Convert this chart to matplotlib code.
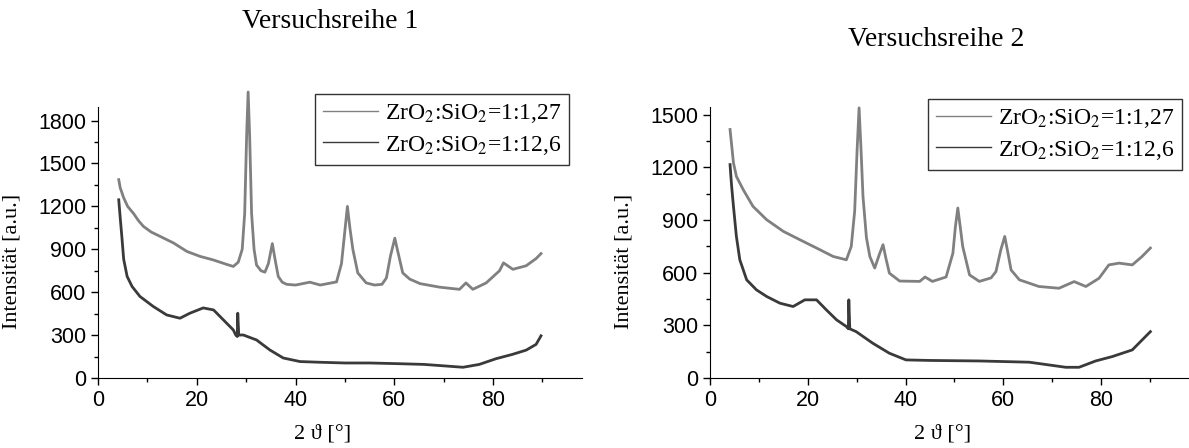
from matplotlib import pyplot as plt
from matplotlib.ticker import MultipleLocator

plt.rcParams['font.family'] = ['Liberation Sans', 'DejaVu Sans']
plt.rcParams['mathtext.fontset'] = 'stix'
SERIF = ['Liberation Serif', 'DejaVu Serif']

# Versuchsreihe 1, ZrO2:SiO2 = 1:1,27
x_r1_a = [4.2, 4.5, 5.2, 6.0, 7.2, 8.2, 9.2, 10.8, 12.6, 15.3, 18.0, 20.7, 23.3, 26.0, 27.4,
          28.4, 29.2, 29.7, 30.1, 30.4, 30.7, 31.1, 31.6, 32.1, 33.0, 33.8, 34.5, 35.3,
          35.9, 36.5, 37.3, 38.2, 40.0, 42.9, 45.0, 48.3, 49.3, 49.9, 50.5, 51.0, 51.6,
          52.6, 54.3, 56.0, 57.5, 58.4, 59.2, 60.1, 60.6, 61.7, 63.1, 65.2, 69.2, 73.2,
          74.5, 75.9, 78.6, 81.3, 82.1, 84.0, 86.7, 88.7, 89.7]
y_r1_a = [1387, 1330, 1260, 1200, 1150, 1100, 1060, 1020, 990, 944, 885, 850, 826, 795, 780,
          810, 900, 1150, 1700, 2000, 1700, 1150, 900, 790, 750, 740, 800, 940,
          820, 710, 670, 655, 650, 670, 650, 672, 800, 1000, 1200, 1050, 900,
          735, 665, 650, 655, 700, 850, 978, 900, 735, 692, 660, 635, 620,
          665, 620, 665, 750, 805, 760, 785, 835, 870]

# Versuchsreihe 1, ZrO2:SiO2 = 1:12,6
x_r1_b = [4.2, 4.5, 4.8, 5.2, 5.9, 6.9, 8.5, 11.2, 13.9, 16.6, 18.6, 21.3, 23.4, 25.4,
          27.4, 27.9, 28.2, 28.3, 28.5, 29.4, 32.1, 34.8, 37.5, 40.9, 45.0, 50.0, 55.0,
          61.0, 66.0, 70.0, 73.9, 77.2, 80.6, 83.9, 86.7, 88.7, 89.7]
y_r1_b = [1246, 1120, 1000, 830, 710, 640, 570, 500, 441, 418, 453, 490, 476, 406,
          336, 300, 290, 453, 300, 301, 266, 196, 140, 115, 110, 105, 105,
          100, 95, 85, 75, 95, 135, 165, 195, 235, 295]

# Versuchsreihe 2, ZrO2:SiO2 = 1:1,27
x_r2_a = [4.1, 4.8, 5.4, 6.8, 8.8, 11.6, 15.0, 18.4, 21.8, 25.2, 27.9, 28.9, 29.6, 30.1,
          30.5, 30.9, 31.3, 32.0, 32.7, 33.7, 34.6, 35.4, 36.0, 36.7, 38.8, 42.9, 44.0,
          45.5, 48.3, 49.7, 50.2, 50.7, 51.2, 51.7, 53.1, 55.1, 57.5, 58.5, 59.5, 60.3,
          60.9, 61.6, 63.3, 67.3, 71.4, 74.5, 76.9, 79.6, 81.6, 83.7, 86.4, 88.4, 90.1]
y_r2_a = [1415, 1225, 1148, 1072, 977, 901, 835, 787, 740, 692, 673, 749, 950, 1300,
          1538, 1300, 1034, 800, 692, 626, 700, 759, 680, 597, 552, 550, 575,
          550, 575, 711, 860, 968, 860, 749, 587, 550, 570, 606, 730, 806,
          720, 615, 559, 521, 511, 549, 521, 568, 644, 654, 644, 692, 740]

# Versuchsreihe 2, ZrO2:SiO2 = 1:12,6
x_r2_b = [4.1, 4.4, 4.8, 5.4, 6.1, 7.5, 9.5, 11.6, 14.3, 17.0, 19.4, 21.8, 23.8, 25.9,
          27.9, 28.3, 28.4, 28.6, 29.9, 33.3, 36.7, 40.1, 44.9, 55.1, 65.3, 72.8, 75.5,
          78.9, 82.3, 86.4, 89.1, 90.1]
y_r2_b = [1215, 1100, 977, 806, 673, 559, 502, 464, 426, 407, 445, 445, 388, 331,
          293, 280, 445, 280, 264, 198, 141, 103, 100, 97, 90, 61, 61,
          97, 122, 160, 236, 264]

labels = [r'ZrO$_2$:SiO$_2$=1:1,27', r'ZrO$_2$:SiO$_2$=1:12,6']
titles = ['Versuchsreihe 1', 'Versuchsreihe 2']
colors = ['#808080', '#3a3a3a']

W, H = 1189, 448
fig = plt.figure(figsize=(W / 100, H / 100), dpi=100)

def px(x0, y0, x1, y1):
    return [x0 / W, 1 - y1 / H, (x1 - x0) / W, (y1 - y0) / H]

ax1 = fig.add_axes(px(98, 107, 582, 378))
ax2 = fig.add_axes(px(710, 107, 1189, 378))

panels = [
    (ax1, [(x_r1_a, y_r1_a), (x_r1_b, y_r1_b)], 1895, (315, 94), 0.463),
    (ax2, [(x_r2_a, y_r2_a), (x_r2_b, y_r2_b)], 1543, (928, 99), 0.485),
]

for ax, series, ytop, legpos, xlab in panels:
    for (xs, ys), c, lab in zip(series, colors, labels):
        ax.plot(xs, ys, color=c, lw=2.0, label=lab, clip_on=False)
    ax.set_xlim(0, 98)
    ax.set_ylim(0, ytop)
    ax.xaxis.set_major_locator(MultipleLocator(20))
    ax.xaxis.set_minor_locator(MultipleLocator(10))
    ax.yaxis.set_major_locator(MultipleLocator(300))
    ax.yaxis.set_minor_locator(MultipleLocator(150))
    ax.spines['top'].set_visible(False)
    ax.spines['right'].set_visible(False)
    ax.tick_params(which='both', direction='out', width=1)
    ax.tick_params(which='major', length=5, labelsize=15.5)
    ax.tick_params(which='minor', length=3)
    ax.set_xlabel('2 \u03d1 [\u00b0]', fontsize=16, family=SERIF)
    ax.xaxis.set_label_coords(xlab, -0.17)
    ax.set_ylabel('Intensit\u00e4t [a.u.]', fontsize=16, family=SERIF)
    leg = ax.legend(loc='upper left', bbox_to_anchor=(legpos[0] / W, 1 - legpos[1] / H),
                    bbox_transform=fig.transFigure, prop={'family': SERIF, 'size': 17},
                    frameon=True, fancybox=False, handlelength=2.3, handletextpad=0.3,
                    labelspacing=0.35, borderpad=0.35, borderaxespad=0)
    leg.get_frame().set_edgecolor('black')
    leg.get_frame().set_linewidth(1)
    for h in leg.get_lines():
        h.set_linewidth(1.0)

fig.text(330 / W, 1 - 22 / H, titles[0], fontsize=20, ha='center', va='center', family=SERIF)
fig.text(936 / W, 1 - 40 / H, titles[1], fontsize=20, ha='center', va='center', family=SERIF)

ax1.yaxis.set_label_coords(-0.158, 0.43)
ax2.yaxis.set_label_coords(-0.159, 0.43)

fig.savefig('out.png', dpi=100)
